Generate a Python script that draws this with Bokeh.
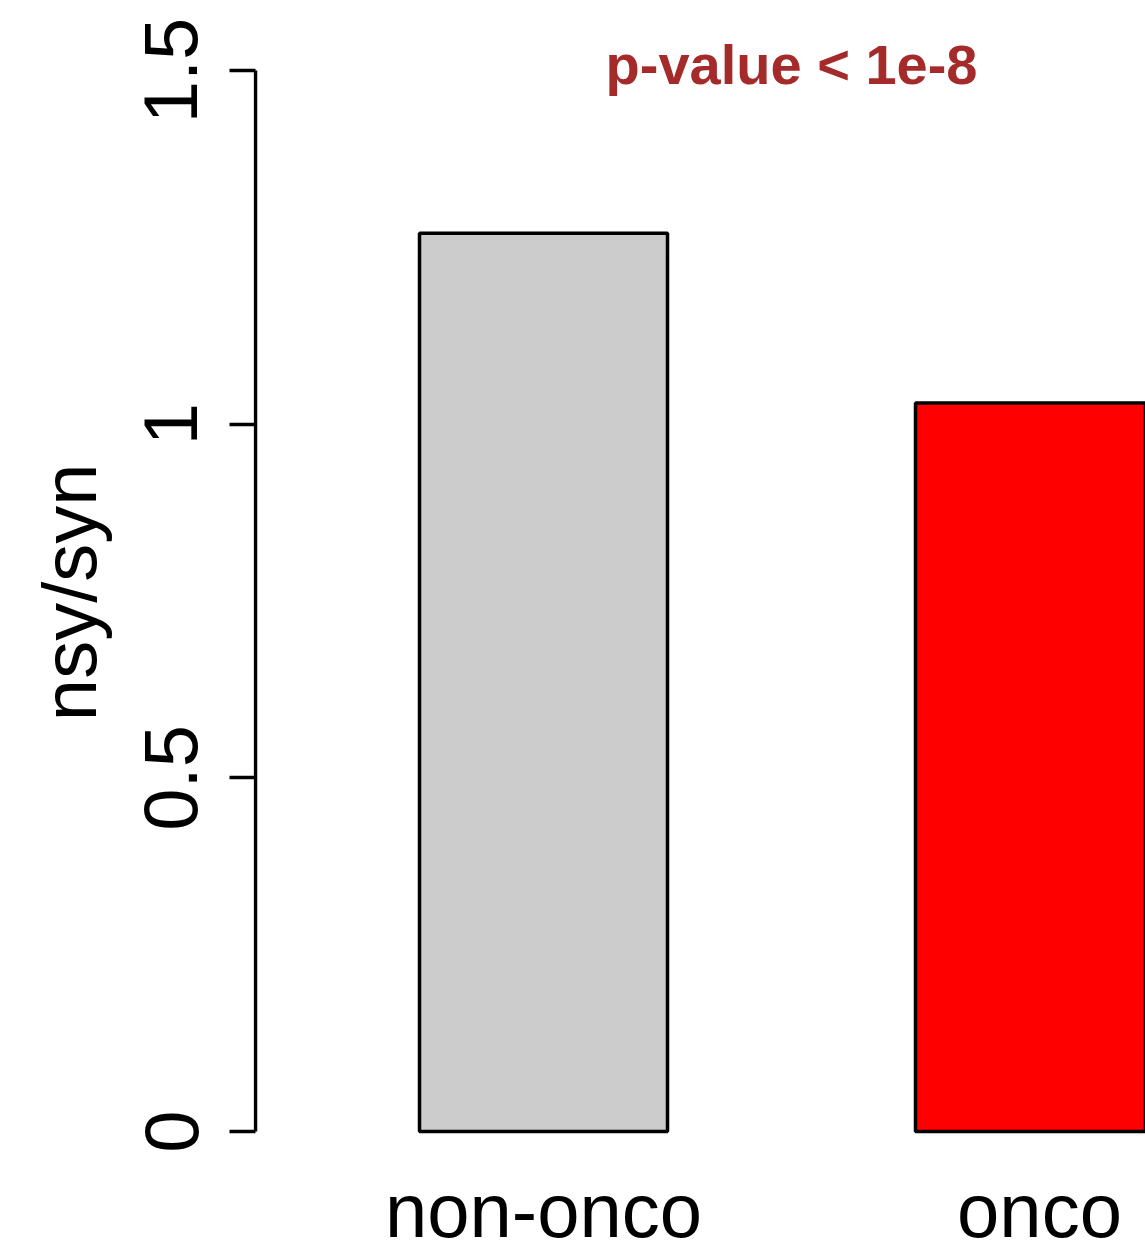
from bokeh.plotting import figure
from bokeh.models import FixedTicker, Range1d, Label, LabelSet, ColumnDataSource
from bokeh.core.properties import value
from bokeh.embed import file_html
from bokeh.resources import INLINE

# ---- data ----
categories = ["non-onco", "onco"]
ratios = [1.27, 1.03]
bar_colors = ["#CCCCCC", "#FF0000"]
y_ticks = [0, 0.5, 1, 1.5]
y_tick_labels = ["0", "0.5", "1", "1.5"]
y_label = "nsy/syn"
annotation = "p-value < 1e-8"

FONT = "Liberation Sans"

# R barplot-style positions: width 1, space 1
xs = [1.5 + 2 * i for i in range(len(categories))]
label_y = [-0.0523] * len(categories)
src = ColumnDataSource(dict(x=xs, top=ratios, color=bar_colors, cat=categories, ly=label_y))

X0, X1 = 0.3306, 3.9274
Y0, Y1 = -0.164, 1.599

p = figure(width=1145, height=1247, output_backend="svg", toolbar_location=None,
           x_range=Range1d(X0, X1), y_range=Range1d(Y0, Y1),
           x_axis_location=None,
           min_border_left=253, min_border_top=0, min_border_bottom=0,
           min_border_right=0)
p.outline_line_color = None
p.xgrid.visible = False
p.ygrid.visible = False
p.background_fill_color = "white"
p.border_fill_color = "white"

p.vbar(x="x", top="top", bottom=0, width=1, fill_color="color",
       line_color="black", line_width=3.5, source=src)

# R-style axis line covering only the tick range
axis_x = X0 + 2 / 248
p.segment(x0=[axis_x], y0=[y_ticks[0]], x1=[axis_x], y1=[y_ticks[-1]],
          line_color="black", line_width=3.5)

# y axis
ya = p.yaxis[0]
ya.ticker = FixedTicker(ticks=y_ticks)
ya.major_label_overrides = {t: s for t, s in zip(y_ticks, y_tick_labels)}
ya.minor_tick_line_color = None
ya.major_tick_in = 2
ya.major_tick_out = 24
ya.major_tick_line_width = 3.5
ya.axis_line_color = None
ya.major_tick_line_color = "black"
ya.major_label_orientation = "vertical"
ya.major_label_text_font = FONT
ya.major_label_text_font_size = "76px"
ya.major_label_text_color = "black"
ya.major_label_standoff = 32
# leading no-break spaces shift the centred label up to sit where R put it
ya.axis_label = "\u00a0\u00a0\u00a0" + y_label
ya.axis_label_text_font = FONT
ya.axis_label_text_font_size = "76px"
ya.axis_label_text_font_style = "normal"
ya.axis_label_text_color = "black"
ya.axis_label_standoff = 30

# category labels under the bars
p.add_layout(LabelSet(x="x", y="ly", text="cat", source=src, text_align="center",
                      text_baseline="top", text_font=value(FONT),
                      text_font_size=value("76px"), text_color="black"))

p.add_layout(Label(x=2.5, y=1.553, text=annotation, text_align="center",
                   text_baseline="top", text_font=FONT,
                   text_font_size="56px", text_font_style="bold",
                   text_color="#A52A2A"))

open("out.html", "w").write(file_html(p, INLINE))
